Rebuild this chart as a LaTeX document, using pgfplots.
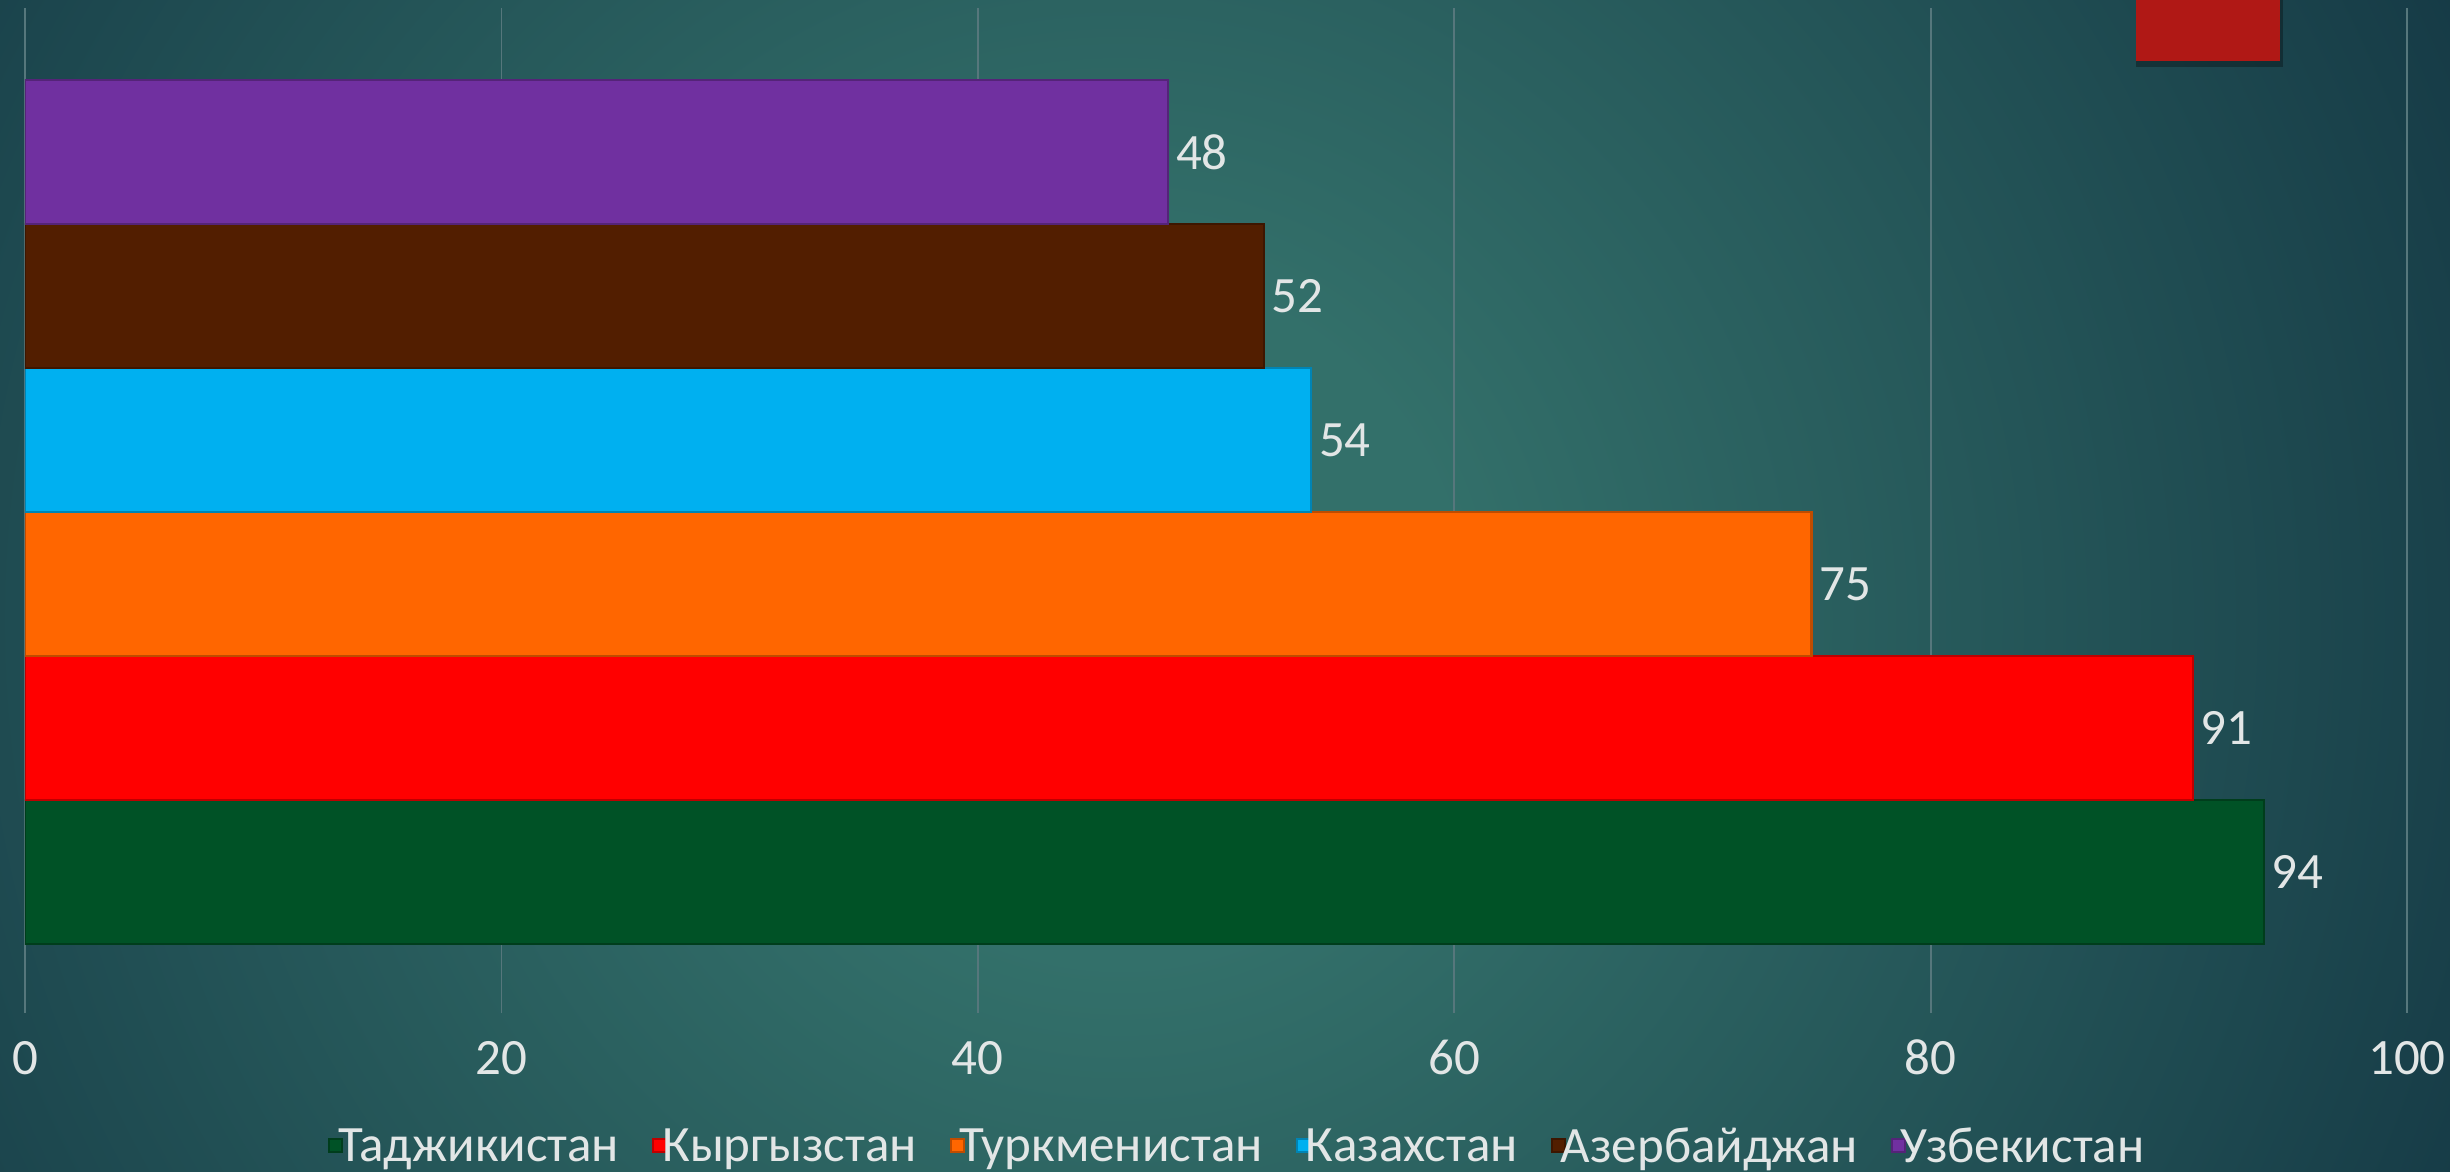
\documentclass[border=0pt]{standalone}
\usepackage{pgfplots}
\pgfplotsset{compat=1.18}
\usepackage{fontspec}
\setmainfont{Carlito}
\definecolor{bgin}{HTML}{33706A}
\definecolor{bgout}{HTML}{10303F}
\definecolor{txt}{HTML}{E2E6E6}
\definecolor{gridc}{HTML}{56777C}
\definecolor{cTaj}{HTML}{005226}
\definecolor{cKyr}{HTML}{FF0000}
\definecolor{cTur}{HTML}{FF6600}
\definecolor{cKaz}{HTML}{00B0F0}
\definecolor{cAze}{HTML}{521E00}
\definecolor{cUzb}{HTML}{7030A0}
\definecolor{flag}{HTML}{B01815}
\pgfdeclareradialshading{bgshade}{\pgfpoint{0bp}{0bp}}{color(0bp)=(bgin); color(5bp)=(bgin); color(25bp)=(bgout); color(50bp)=(bgout)}
\begin{document}
\begin{tikzpicture}[x=1mm,y=1mm]
\begin{scope}
\clip (0,0) rectangle (245,117.1);
\shade[shading=bgshade] (112,55) circle (170);
\fill[black,opacity=0.3] (213.6,110.4) rectangle (228.3,117.1);
\fill[flag] (213.6,111.0) rectangle (228.0,117.1);
\end{scope}
\begin{axis}[
  at={(2.5mm,15.8mm)}, anchor=south west,
  scale only axis,
  width=238.2mm, height=100.5mm,
  xmin=0, xmax=100, ymin=-0.98, ymax=6.0,
  xtick={0,20,40,60,80,100},
  ytick=\empty,
  axis line style={draw=none},
  major tick length=0pt,
  xmajorgrids,
  grid style={draw=gridc, line width=0.5pt},
  xbar, bar width=1, bar shift=0pt,
  /pgf/number format/assume math mode=true,
  tick label style={font=\fontsize{14.5}{17}\selectfont, text=txt},
  xticklabel style={anchor=base, yshift=-6.1mm},
  nodes near coords,
  every node near coord/.append style={font=\fontsize{14.5}{17}\selectfont, text=txt, anchor=west, xshift=-0.5mm},
  legend columns=-1,
  legend style={at={(0.51,-0.134)}, anchor=center, draw=none, fill=none,
    font=\fontsize{14.5}{17}\selectfont, text=txt,
    /tikz/every even column/.append style={column sep=2.6mm},
    inner sep=0pt},
  legend image code/.code={\fill[#1] (0mm,-0.45mm) rectangle (1.3mm,0.85mm);},
  every axis plot/.append style={line width=0.6pt},
]
\addplot[fill=cTaj, draw=cTaj!75!black] coordinates {(94,0)};
\addlegendentry{\hspace{-1.2mm}Таджикистан}
\addplot[fill=cKyr, draw=cKyr!75!black] coordinates {(91,1)};
\addlegendentry{\hspace{-1.2mm}Кыргызстан}
\addplot[fill=cTur, draw=cTur!75!black] coordinates {(75,2)};
\addlegendentry{\hspace{-1.2mm}Туркменистан}
\addplot[fill=cKaz, draw=cKaz!75!black] coordinates {(54,3)};
\addlegendentry{\hspace{-1.2mm}Казахстан}
\addplot[fill=cAze, draw=cAze!75!black] coordinates {(52,4)};
\addlegendentry{\hspace{-1.2mm}Азербайджан}
\addplot[fill=cUzb, draw=cUzb!75!black] coordinates {(48,5)};
\addlegendentry{\hspace{-1.2mm}Узбекистан}
\end{axis}
\pgfresetboundingbox
\useasboundingbox (0,0) rectangle (245,117.1);
\end{tikzpicture}
\end{document}
